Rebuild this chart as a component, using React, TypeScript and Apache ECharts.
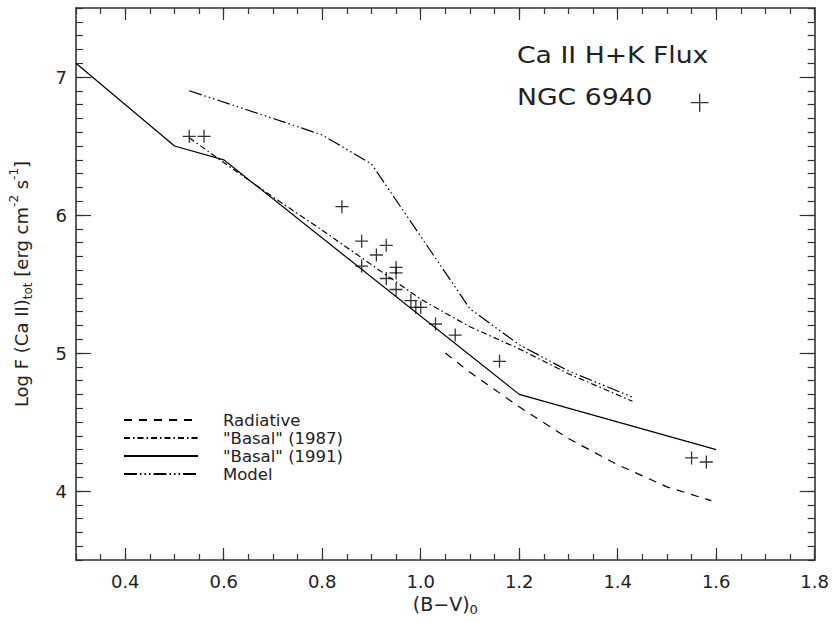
import React, { useEffect, useRef } from "react";
import * as echarts from "echarts";

// ---- data ----
const radiativeBV = [1.05, 1.1, 1.2, 1.3, 1.4, 1.5, 1.59];
const radiativeFlux = [5.0, 4.86, 4.61, 4.38, 4.19, 4.03, 3.93];

const basal1987BV = [0.53, 0.6, 0.7, 0.8, 0.9, 1.0, 1.1, 1.2, 1.3, 1.43];
const basal1987Flux = [6.56, 6.38, 6.13, 5.89, 5.64, 5.39, 5.19, 5.03, 4.85, 4.65];

const basal1991BV = [0.3, 0.5, 0.6, 1.2, 1.6];
const basal1991Flux = [7.1, 6.5, 6.4, 4.7, 4.3];

const modelBV = [0.53, 0.7, 0.8, 0.9, 1.1, 1.2, 1.3, 1.43];
const modelFlux = [6.9, 6.7, 6.58, 6.37, 5.32, 5.06, 4.87, 4.68];

const starBV = [0.53, 0.56, 0.84, 0.88, 0.93, 0.91, 0.88, 0.95, 0.95, 0.93, 0.95, 0.98, 0.99, 1.0, 1.03, 1.07, 1.16, 1.55, 1.58];
const starFlux = [6.57, 6.57, 6.06, 5.81, 5.78, 5.71, 5.63, 5.62, 5.58, 5.54, 5.46, 5.38, 5.33, 5.33, 5.21, 5.13, 4.94, 4.24, 4.21];

const xMajorTicks = [0.4, 0.6, 0.8, 1.0, 1.2, 1.4, 1.6, 1.8];
const yMajorTicks = [4, 5, 6, 7];

const seriesNames = ["Radiative", '"Basal" (1987)', '"Basal" (1991)', "Model"];
const starName = "NGC 6940";
const titleText = "Ca II H+K Flux";

const zip = (xs: number[], ys: number[]) => xs.map((x, i) => [x, ys[i]]);

const FONT = "DejaVu Sans";
const TXT = "#222";
const AX = "#333";
const PLUS = "path://M0,5L10,5M5,0L5,10";

export default function App() {
  const ref = useRef<HTMLDivElement>(null);
  useEffect(() => {
    document.body.style.margin = "0";
    const chart = echarts.init(ref.current!, null, { renderer: "svg" });
    const xBase = { type: "value", min: 0.3, max: 1.8, splitLine: { show: false } };
    const yBase = { type: "value", min: 3.5, max: 7.5, splitLine: { show: false } };
    const minorTick = (len: number) => ({ show: true, inside: true, length: len, lineStyle: { color: AX, width: 1.2 } });
    const option: any = {
      animation: false,
      backgroundColor: "#fff",
      grid: { left: 68, right: 16, top: 8, bottom: 63, containLabel: false },
      xAxis: [
        { ...xBase, position: "bottom", interval: 0.05, axisLine: { lineStyle: { color: AX, width: 1.6 } }, axisTick: minorTick(6), axisLabel: { show: false } },
        {
          ...xBase, position: "bottom", axisLine: { show: false },
          axisTick: { ...minorTick(12), customValues: xMajorTicks },
          axisLabel: { customValues: xMajorTicks, fontFamily: FONT, fontSize: 18, color: TXT, margin: 12, formatter: (v: number) => v.toFixed(1) },
          name: "(B\u2212V){sub|0}", nameLocation: "middle", nameGap: 30,
          nameTextStyle: { fontFamily: FONT, fontSize: 19, color: TXT, rich: { sub: { fontFamily: FONT, fontSize: 13, color: TXT, verticalAlign: "bottom", padding: [10, 0, 0, 0] } } },
        },
        { ...xBase, position: "top", interval: 0.05, axisLine: { lineStyle: { color: AX, width: 1.6 } }, axisTick: minorTick(6), axisLabel: { show: false } },
        { ...xBase, position: "top", axisLine: { show: false }, axisTick: { ...minorTick(12), customValues: xMajorTicks }, axisLabel: { show: false } },
      ],
      yAxis: [
        { ...yBase, position: "left", interval: 0.1, axisLine: { show: true, lineStyle: { color: AX, width: 1.6 } }, axisTick: minorTick(7), axisLabel: { show: false } },
        {
          ...yBase, position: "left", axisLine: { show: false },
          axisTick: { ...minorTick(15), customValues: yMajorTicks },
          axisLabel: { customValues: yMajorTicks, fontFamily: FONT, fontSize: 18, color: TXT, margin: 9 },
          name: "Log F (Ca II){sub|tot} [erg cm{sup|-2} s{sup|-1}]", nameLocation: "middle", nameGap: 42, nameRotate: 90,
          nameTextStyle: {
            fontFamily: FONT, fontSize: 18, color: TXT, lineHeight: 26,
            rich: {
              sub: { fontFamily: FONT, fontSize: 12, color: TXT, verticalAlign: "bottom", lineHeight: 16 },
              sup: { fontFamily: FONT, fontSize: 12, color: TXT, verticalAlign: "top", lineHeight: 16 },
            },
          },
        },
        { ...yBase, position: "right", interval: 0.1, axisLine: { show: true, lineStyle: { color: AX, width: 1.6 } }, axisTick: minorTick(7), axisLabel: { show: false } },
        { ...yBase, position: "right", axisLine: { show: false }, axisTick: { ...minorTick(15), customValues: yMajorTicks }, axisLabel: { show: false } },
      ],
      legend: [
        {
          orient: "vertical", left: 118, top: 406, itemWidth: 74, itemHeight: 10, itemGap: 0,
          data: seriesNames, selectedMode: false,
          itemStyle: { color: "rgba(0,0,0,0)", borderWidth: 0, opacity: 0 },
          textStyle: { fontFamily: FONT, fontSize: 16.5, color: TXT, lineHeight: 18, padding: [0, 0, 0, 20] },
        },
        {
          left: 685, top: 88, itemWidth: 18, itemHeight: 18, selectedMode: false,
          data: [{ name: starName, icon: PLUS }],
          formatter: () => "",
          itemStyle: { color: "rgba(0,0,0,0)", borderColor: "#000", borderWidth: 1.3 },
          textStyle: { fontSize: 1 },
        },
      ],
      graphic: [
        { type: "text", x: 517, y: 55, scaleX: 1.16, style: { text: titleText, font: `23px "${FONT}"`, fill: TXT, textVerticalAlign: "middle", verticalAlign: "middle" } },
        { type: "text", x: 517, y: 97, scaleX: 1.16, style: { text: starName, font: `23px "${FONT}"`, fill: TXT, textVerticalAlign: "middle", verticalAlign: "middle" } },
      ],
      series: [
        { name: seriesNames[0], type: "line", data: zip(radiativeBV, radiativeFlux), symbol: "none", silent: true, itemStyle: { color: "#000" }, lineStyle: { color: "#000", width: 1.2, type: [8, 7] } },
        { name: seriesNames[1], type: "line", data: zip(basal1987BV, basal1987Flux), symbol: "none", silent: true, itemStyle: { color: "#000" }, lineStyle: { color: "#000", width: 1.2, type: [6, 3, 1.5, 3] } },
        { name: seriesNames[2], type: "line", data: zip(basal1991BV, basal1991Flux), symbol: "none", silent: true, itemStyle: { color: "#000" }, lineStyle: { color: "#000", width: 1.2, type: "solid" } },
        { name: seriesNames[3], type: "line", data: zip(modelBV, modelFlux), symbol: "none", silent: true, itemStyle: { color: "#000" }, lineStyle: { color: "#000", width: 1.2, type: [13, 3, 1.5, 3, 1.5, 3, 1.5, 3] } },
        {
          name: starName, type: "scatter", data: zip(starBV, starFlux), symbol: PLUS, symbolSize: 13, silent: true,
          itemStyle: { color: "rgba(0,0,0,0)", borderColor: "#000", borderWidth: 1.3 },
        },
      ],
    };
    chart.setOption(option);
    return () => chart.dispose();
  }, []);
  return <div ref={ref} style={{ position: "fixed", left: 0, top: 0, width: 832, height: 623 }} />;
}
